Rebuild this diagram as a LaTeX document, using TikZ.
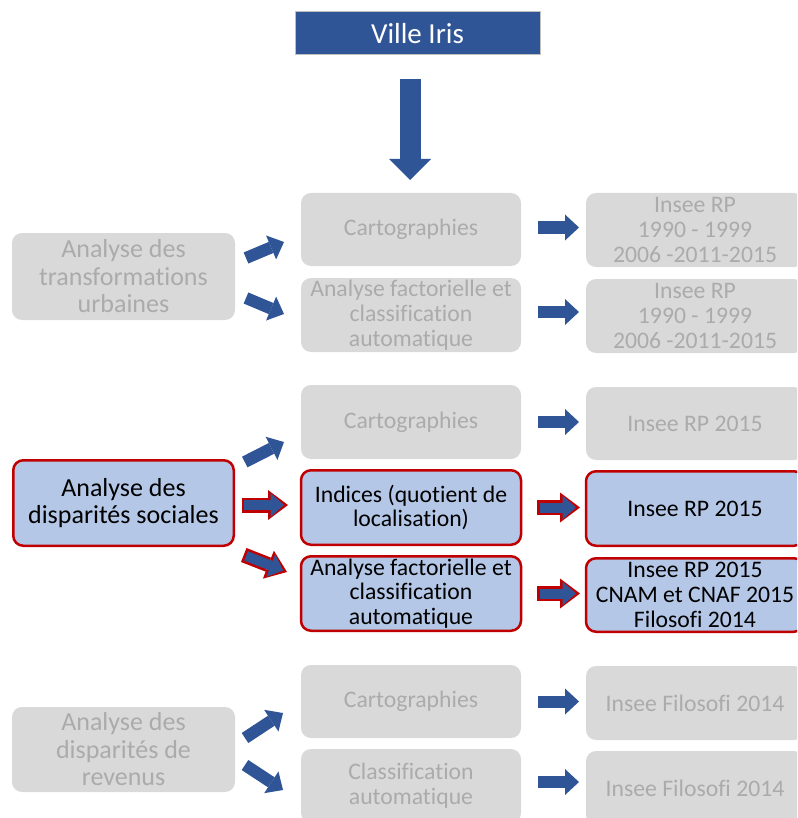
\documentclass[tikz,border=0pt]{standalone}
\usepackage{fontspec}
\setmainfont{Carlito}[Ligatures=NoCommon]
\usetikzlibrary{arrows.meta,calc}
\definecolor{irisblue}{HTML}{2F5597}
\definecolor{boxgray}{HTML}{D9D9D9}
\definecolor{textgray}{HTML}{ABABAB}
\definecolor{hiblue}{HTML}{B4C7E7}
\definecolor{hired}{HTML}{C00000}
\definecolor{titleedge}{HTML}{BFBFBF}
\begin{document}
\begin{tikzpicture}[x=1pt,y=-1pt,
  box/.style={rounded corners=10pt, outer sep=0pt, inner sep=0pt, align=center},
  dimbox/.style={box, fill=boxgray, text=textgray},
  hibox/.style={box, fill=hiblue, draw=hired, line width=2.5pt, text=black},
  leftcol/.style={minimum width=223pt, font=\fontsize{26}{27.5}\selectfont},
  leftcolhi/.style={minimum width=220.5pt, font=\fontsize{26}{27.5}\selectfont},
  midcol/.style={minimum width=220pt, font=\fontsize{23.7}{24.7}\selectfont},
  rightcol/.style={minimum width=218pt, font=\fontsize{23.7}{24.7}\selectfont},
  blockarrow/.style={draw=irisblue, line width=12pt,
    -{Triangle[length=14pt,width=26pt,line width=0pt]}},
  bigarrow/.style={draw=irisblue, line width=21pt,
    -{Triangle[length=21pt,width=42pt,line width=0pt]}},
  redarrow/.style={draw=irisblue, line width=10pt,
    -{Triangle[length=13.5pt,width=24pt,line width=0pt]},
    shorten >=4pt, shorten <=2.5pt,
    preaction={draw=hired, line width=15pt,
      -{Triangle[length=20pt,width=30pt,line width=0pt]},
      shorten >=0pt, shorten <=0pt}}
]
\useasboundingbox (0,0) rectangle (797,818);
\clip (0,0) rectangle (797,818);

% title
\node[draw=titleedge, line width=1pt, fill=irisblue, text=white, outer sep=0pt,
  minimum width=245pt, minimum height=43pt, font=\fontsize{29}{32}\selectfont]
  (V) at (417.5,33.5) {Ville Iris};

% urban transformations
\node[dimbox, leftcol, minimum height=87pt] (L1) at (123.5,276.5)
  {Analyse des\\transformations\\urbaines};
\node[dimbox, midcol, minimum height=73pt] (C1) at (411,229.5) {Cartographies};
\node[dimbox, midcol, minimum height=74pt] (A1) at (411,315)
  {Analyse factorielle et\\classification\\automatique};
\node[dimbox, rightcol, minimum height=74pt] (R1) at (695,230)
  {Insee RP\\1990 - 1999\\2006 -2011-2015};
\node[dimbox, rightcol, minimum height=74pt] (Q1) at (695,316)
  {Insee RP\\1990 - 1999\\2006 -2011-2015};

% social disparities
\node[hibox, leftcolhi, minimum height=85.5pt] (L2) at (123.5,503)
  {Analyse des\\disparités sociales};
\node[dimbox, midcol, minimum height=74pt] (C2) at (411,422) {Cartographies};
\node[hibox, midcol, minimum height=74.5pt] (I2) at (411,507.5)
  {Indices (quotient de\\localisation)};
\node[hibox, midcol, minimum height=74.5pt] (A2) at (411,593.5)
  {Analyse factorielle et\\classification\\automatique};
\node[dimbox, rightcol, minimum height=73pt] (R2) at (695,423.5) {Insee RP 2015};
\node[hibox, rightcol, minimum height=74.5pt] (S2) at (695,508.5) {Insee RP 2015};
\node[hibox, rightcol, minimum height=73.5pt] (T2) at (695,595)
  {Insee RP 2015\\CNAM et CNAF 2015\\Filosofi 2014};

% income disparities
\node[dimbox, leftcol, minimum height=85pt] (L3) at (123.5,749.5)
  {Analyse des\\disparités de\\revenus};
\node[dimbox, midcol, minimum height=73pt] (C3) at (411,701.5) {Cartographies};
\node[dimbox, midcol, minimum height=74pt] (K3) at (411,786)
  {Classification\\automatique};
\node[dimbox, rightcol, minimum height=74pt] (R3) at (695,703) {Insee Filosofi 2014};
\node[dimbox, rightcol, minimum height=74pt] (U3) at (695,788) {Insee Filosofi 2014};

% connectors
\draw[bigarrow] ($(V.south)+(-7.5,24)$) -- ($(C1.north)+(-1,-13)$);

\draw[blockarrow] ($(L1.east)+(11,-18.5)$) -- ($(C1.west)+(-17,12.5)$);
\draw[blockarrow] ($(L1.east)+(11,21.5)$) -- ($(A1.west)+(-17,-1)$);
\draw[blockarrow] ($(C1.east)+(17,-2)$) -- ($(C1.east -| R1.west)+(-7,-2)$);
\draw[blockarrow] ($(A1.east)+(17,-3)$) -- ($(A1.east -| Q1.west)+(-7,-3)$);

\draw[blockarrow] ($(L2.east)+(11,-41)$) -- ($(C2.west)+(-17,20)$);
\draw[redarrow] ($(L2.east)+(8,2)$) -- ($(I2.west)+(-13,-2.5)$);
\draw[redarrow] ($(L2.east)+(10,52)$) -- ($(A2.west)+(-14,-21.5)$);
\draw[blockarrow] ($(C2.east)+(17,0)$) -- ($(C2.east -| R2.west)+(-7,0)$);
\draw[redarrow] ($(I2.east)+(16,0)$) -- ($(I2.east -| S2.west)+(-6,0)$);
\draw[redarrow] ($(A2.east)+(16,0)$) -- ($(A2.east -| T2.west)+(-6,0)$);

\draw[blockarrow] ($(L3.east)+(10,-11.5)$) -- ($(C3.west)+(-18,11.5)$);
\draw[blockarrow] ($(L3.east)+(10,15.5)$) -- ($(K3.west)+(-18,4)$);
\draw[blockarrow] ($(C3.east)+(17,0)$) -- ($(C3.east -| R3.west)+(-7,0)$);
\draw[blockarrow] ($(K3.east)+(17,-4)$) -- ($(K3.east -| U3.west)+(-7,-4)$);
\end{tikzpicture}
\end{document}
